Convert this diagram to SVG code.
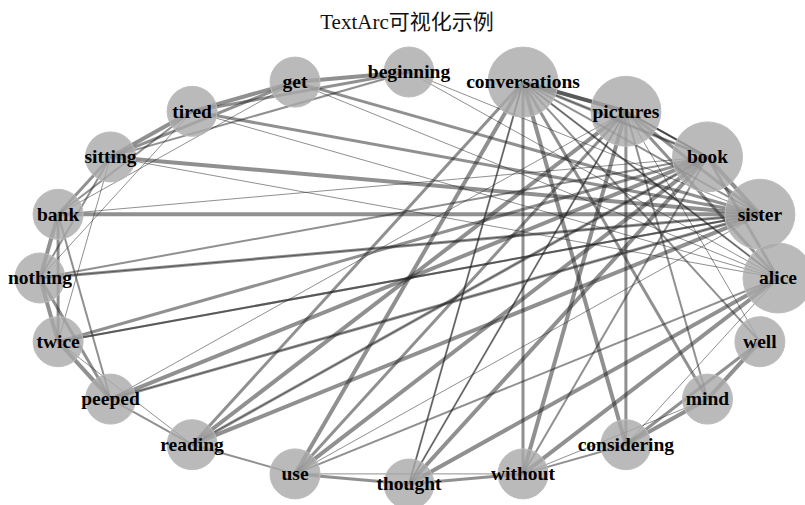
<svg xmlns="http://www.w3.org/2000/svg" width="805" height="505" viewBox="0 0 805 505">
<style>
.title{font-family:"Liberation Serif","Noto Sans CJK SC",serif;font-size:21px;fill:#111;text-anchor:middle}
.e{stroke:#222;stroke-opacity:0.5;fill:none;stroke-linecap:butt}
.d1{stroke-width:4}
.d2{stroke-width:3}
.d3{stroke-width:2}
.d4{stroke-width:1}
.n circle{fill:#a9a9a9;fill-opacity:0.8;stroke:#bdbdbd;stroke-width:1}
.n text{font-family:"Liberation Serif",serif;font-weight:bold;font-size:19.5px;fill:#000;text-anchor:middle}
</style>
<rect width="805" height="505" fill="#fff"/>
<text class="title" x="407" y="29">TextArc可视化示例</text>
<g id="edges">
<line class="e d4" x1="778" y1="278" x2="409" y2="72"/>
<line class="e d1" x1="409" y1="72" x2="295" y2="82.1"/>
<line class="e d1" x1="295" y1="82.1" x2="192.1" y2="111.3"/>
<line class="e d1" x1="192.1" y1="111.3" x2="110.5" y2="156.9"/>
<line class="e d1" x1="110.5" y1="156.9" x2="759.9" y2="214.3"/>
<line class="e d1" x1="759.9" y1="214.3" x2="58.1" y2="214.3"/>
<line class="e d1" x1="58.1" y1="214.3" x2="40" y2="278"/>
<line class="e d1" x1="40" y1="278" x2="58.1" y2="341.7"/>
<line class="e d1" x1="58.1" y1="341.7" x2="110.5" y2="399.1"/>
<line class="e d1" x1="110.5" y1="399.1" x2="707.5" y2="156.9"/>
<line class="e d1" x1="707.5" y1="156.9" x2="759.9" y2="214.3"/>
<line class="e d1" x1="759.9" y1="214.3" x2="192.1" y2="444.7"/>
<line class="e d1" x1="192.1" y1="444.7" x2="625.9" y2="111.3"/>
<line class="e d1" x1="625.9" y1="111.3" x2="523" y2="82.1"/>
<line class="e d1" x1="523" y1="82.1" x2="295" y2="473.9"/>
<line class="e d1" x1="295" y1="473.9" x2="707.5" y2="156.9"/>
<line class="e d1" x1="707.5" y1="156.9" x2="409" y2="484"/>
<line class="e d1" x1="409" y1="484" x2="778" y2="278"/>
<line class="e d1" x1="778" y1="278" x2="523" y2="473.9"/>
<line class="e d1" x1="523" y1="473.9" x2="625.9" y2="111.3"/>
<line class="e d1" x1="625.9" y1="111.3" x2="523" y2="82.1"/>
<line class="e d1" x1="523" y1="82.1" x2="625.9" y2="444.7"/>
<line class="e d1" x1="625.9" y1="444.7" x2="707.5" y2="399.1"/>
<line class="e d1" x1="707.5" y1="399.1" x2="759.9" y2="341.7"/>
<line class="e d4" x1="778" y1="278" x2="295" y2="82.1"/>
<line class="e d2" x1="409" y1="72" x2="192.1" y2="111.3"/>
<line class="e d2" x1="295" y1="82.1" x2="110.5" y2="156.9"/>
<line class="e d2" x1="192.1" y1="111.3" x2="759.9" y2="214.3"/>
<line class="e d2" x1="110.5" y1="156.9" x2="58.1" y2="214.3"/>
<line class="e d2" x1="759.9" y1="214.3" x2="40" y2="278"/>
<line class="e d2" x1="58.1" y1="214.3" x2="58.1" y2="341.7"/>
<line class="e d2" x1="40" y1="278" x2="110.5" y2="399.1"/>
<line class="e d2" x1="58.1" y1="341.7" x2="707.5" y2="156.9"/>
<line class="e d2" x1="110.5" y1="399.1" x2="759.9" y2="214.3"/>
<line class="e d2" x1="707.5" y1="156.9" x2="192.1" y2="444.7"/>
<line class="e d2" x1="759.9" y1="214.3" x2="625.9" y2="111.3"/>
<line class="e d2" x1="192.1" y1="444.7" x2="523" y2="82.1"/>
<line class="e d2" x1="625.9" y1="111.3" x2="295" y2="473.9"/>
<line class="e d2" x1="523" y1="82.1" x2="707.5" y2="156.9"/>
<line class="e d2" x1="295" y1="473.9" x2="409" y2="484"/>
<line class="e d2" x1="707.5" y1="156.9" x2="778" y2="278"/>
<line class="e d2" x1="409" y1="484" x2="523" y2="473.9"/>
<line class="e d2" x1="778" y1="278" x2="625.9" y2="111.3"/>
<line class="e d2" x1="523" y1="473.9" x2="523" y2="82.1"/>
<line class="e d2" x1="625.9" y1="111.3" x2="625.9" y2="444.7"/>
<line class="e d2" x1="523" y1="82.1" x2="707.5" y2="399.1"/>
<line class="e d2" x1="625.9" y1="444.7" x2="759.9" y2="341.7"/>
<line class="e d4" x1="778" y1="278" x2="192.1" y2="111.3"/>
<line class="e d3" x1="409" y1="72" x2="110.5" y2="156.9"/>
<line class="e d2" x1="295" y1="82.1" x2="759.9" y2="214.3"/>
<line class="e d3" x1="192.1" y1="111.3" x2="58.1" y2="214.3"/>
<line class="e d3" x1="110.5" y1="156.9" x2="40" y2="278"/>
<line class="e d3" x1="759.9" y1="214.3" x2="58.1" y2="341.7"/>
<line class="e d3" x1="58.1" y1="214.3" x2="110.5" y2="399.1"/>
<line class="e d3" x1="40" y1="278" x2="707.5" y2="156.9"/>
<line class="e d3" x1="58.1" y1="341.7" x2="759.9" y2="214.3"/>
<line class="e d3" x1="110.5" y1="399.1" x2="192.1" y2="444.7"/>
<line class="e d3" x1="707.5" y1="156.9" x2="625.9" y2="111.3"/>
<line class="e d3" x1="759.9" y1="214.3" x2="523" y2="82.1"/>
<line class="e d3" x1="192.1" y1="444.7" x2="295" y2="473.9"/>
<line class="e d3" x1="625.9" y1="111.3" x2="707.5" y2="156.9"/>
<line class="e d3" x1="523" y1="82.1" x2="409" y2="484"/>
<line class="e d3" x1="295" y1="473.9" x2="778" y2="278"/>
<line class="e d3" x1="707.5" y1="156.9" x2="523" y2="473.9"/>
<line class="e d3" x1="409" y1="484" x2="625.9" y2="111.3"/>
<line class="e d3" x1="778" y1="278" x2="523" y2="82.1"/>
<line class="e d3" x1="523" y1="473.9" x2="625.9" y2="444.7"/>
<line class="e d3" x1="625.9" y1="111.3" x2="707.5" y2="399.1"/>
<line class="e d3" x1="523" y1="82.1" x2="759.9" y2="341.7"/>
<line class="e d4" x1="778" y1="278" x2="110.5" y2="156.9"/>
<line class="e d4" x1="409" y1="72" x2="759.9" y2="214.3"/>
<line class="e d4" x1="295" y1="82.1" x2="58.1" y2="214.3"/>
<line class="e d4" x1="192.1" y1="111.3" x2="40" y2="278"/>
<line class="e d4" x1="110.5" y1="156.9" x2="58.1" y2="341.7"/>
<line class="e d4" x1="759.9" y1="214.3" x2="110.5" y2="399.1"/>
<line class="e d4" x1="58.1" y1="214.3" x2="707.5" y2="156.9"/>
<line class="e d4" x1="40" y1="278" x2="759.9" y2="214.3"/>
<line class="e d4" x1="58.1" y1="341.7" x2="192.1" y2="444.7"/>
<line class="e d4" x1="110.5" y1="399.1" x2="625.9" y2="111.3"/>
<line class="e d4" x1="707.5" y1="156.9" x2="523" y2="82.1"/>
<line class="e d4" x1="759.9" y1="214.3" x2="295" y2="473.9"/>
<line class="e d4" x1="192.1" y1="444.7" x2="707.5" y2="156.9"/>
<line class="e d4" x1="625.9" y1="111.3" x2="409" y2="484"/>
<line class="e d4" x1="523" y1="82.1" x2="778" y2="278"/>
<line class="e d4" x1="295" y1="473.9" x2="523" y2="473.9"/>
<line class="e d4" x1="707.5" y1="156.9" x2="625.9" y2="111.3"/>
<line class="e d4" x1="409" y1="484" x2="523" y2="82.1"/>
<line class="e d4" x1="778" y1="278" x2="625.9" y2="444.7"/>
<line class="e d4" x1="523" y1="473.9" x2="707.5" y2="399.1"/>
<line class="e d4" x1="625.9" y1="111.3" x2="759.9" y2="341.7"/>
</g>
<g id="node-beginning" class="n"><circle cx="409" cy="72" r="25"/><text x="409" y="78">beginning</text></g>
<g id="node-conversations" class="n"><circle cx="523" cy="82.1" r="35"/><text x="523" y="88">conversations</text></g>
<g id="node-pictures" class="n"><circle cx="625.9" cy="111.3" r="35"/><text x="625.9" y="117.5">pictures</text></g>
<g id="node-book" class="n"><circle cx="707.5" cy="156.9" r="35"/><text x="707.5" y="163">book</text></g>
<g id="node-sister" class="n"><circle cx="759.9" cy="214.3" r="35"/><text x="759.9" y="220.5">sister</text></g>
<g id="node-alice" class="n"><circle cx="778" cy="278" r="35"/><text x="778" y="284">alice</text></g>
<g id="node-well" class="n"><circle cx="759.9" cy="341.7" r="25"/><text x="759.9" y="348">well</text></g>
<g id="node-mind" class="n"><circle cx="707.5" cy="399.1" r="25"/><text x="707.5" y="405">mind</text></g>
<g id="node-considering" class="n"><circle cx="625.9" cy="444.7" r="25"/><text x="625.9" y="451">considering</text></g>
<g id="node-without" class="n"><circle cx="523" cy="473.9" r="25"/><text x="523" y="480">without</text></g>
<g id="node-thought" class="n"><circle cx="409" cy="484" r="25"/><text x="409" y="490">thought</text></g>
<g id="node-use" class="n"><circle cx="295" cy="473.9" r="25"/><text x="295" y="480">use</text></g>
<g id="node-reading" class="n"><circle cx="192.1" cy="444.7" r="25"/><text x="192.1" y="451">reading</text></g>
<g id="node-peeped" class="n"><circle cx="110.5" cy="399.1" r="25"/><text x="110.5" y="405">peeped</text></g>
<g id="node-twice" class="n"><circle cx="58.1" cy="341.7" r="25"/><text x="58.1" y="348">twice</text></g>
<g id="node-nothing" class="n"><circle cx="40" cy="278" r="25"/><text x="40" y="284">nothing</text></g>
<g id="node-bank" class="n"><circle cx="58.1" cy="214.3" r="25"/><text x="58.1" y="220.5">bank</text></g>
<g id="node-sitting" class="n"><circle cx="110.5" cy="156.9" r="25"/><text x="110.5" y="163">sitting</text></g>
<g id="node-tired" class="n"><circle cx="192.1" cy="111.3" r="25"/><text x="192.1" y="117.5">tired</text></g>
<g id="node-get" class="n"><circle cx="295" cy="82.1" r="25"/><text x="295" y="88">get</text></g>
</svg>
